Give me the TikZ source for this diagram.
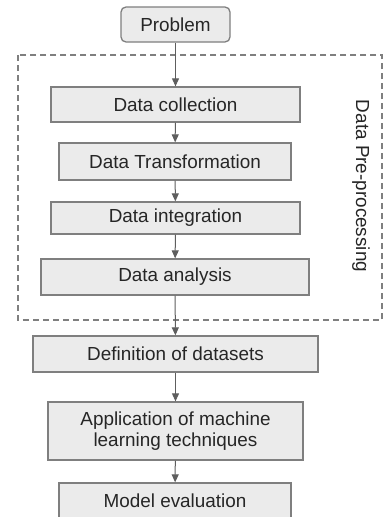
\documentclass[tikz,border=0pt]{standalone}
\usepackage{xcolor}
\usepackage{fontspec}
\setmainfont{Liberation Sans}
\usepackage{tikz}
\usetikzlibrary{shapes,arrows,arrows.meta,positioning,calc}

\definecolor{boxfill}{HTML}{EBEBEB}
\definecolor{boxline}{HTML}{7F7F7F}
\definecolor{arrowgray}{HTML}{5E5E5E}

\tikzset{
  stage/.style={draw=boxline,fill=boxfill,line width=1.3pt,inner sep=0pt,
    minimum height=35pt,align=center,font=\fontsize{18.9}{23}\selectfont,text=black!85},
  flow/.style={draw=arrowgray,line width=1pt,-{Triangle[width=7pt,length=8pt]}}
}

\begin{document}
\begin{tikzpicture}[x=1pt,y=-1pt]
\useasboundingbox (0,0) rectangle (383,517);
\fill[white] (0,0) rectangle (383,517);

% pre-processing frame
\draw[boxline,line width=1.3pt,dash pattern=on 6pt off 4pt] (18,55) rectangle (382,320);
\node[rotate=-90,font=\fontsize{18.9}{23}\selectfont,text=black!85] (prelabel) at (361,186) {Data Pre-processing};

\node[stage,rounded corners=5pt,minimum width=109pt] (problem) at (175.5,24.5) {Problem};
\node[stage,minimum width=249pt] (collect) at (175.5,104.5) {Data collection};
\node[stage,minimum width=232pt,minimum height=37pt] (transform) at (175,161.5) {Data Transformation};
\node[stage,minimum width=249pt,minimum height=32pt] (integrate) at (175.5,218) {Data integration};
\node[stage,minimum width=268pt,minimum height=36pt] (analyse) at (175,277) {Data analysis};
\node[stage,minimum width=285pt,minimum height=36pt] (datasets) at (175.5,354) {Definition of datasets};
\node[stage,minimum width=255pt,minimum height=58pt] (applyml) at (175.5,431) {Application of machine\\[-2pt]learning techniques};
\node[stage,minimum width=232pt,minimum height=36pt] (evaluate) at (175,501) {Model evaluation};

\draw[flow] (problem) -- (collect);
\draw[flow] (collect) -- (transform);
\draw[flow] (transform) -- (integrate);
\draw[flow] (integrate) -- (analyse);
\draw[flow] (analyse) -- (datasets);
\draw[flow] (datasets) -- (applyml);
\draw[flow] (applyml) -- (evaluate);
\end{tikzpicture}
\end{document}
